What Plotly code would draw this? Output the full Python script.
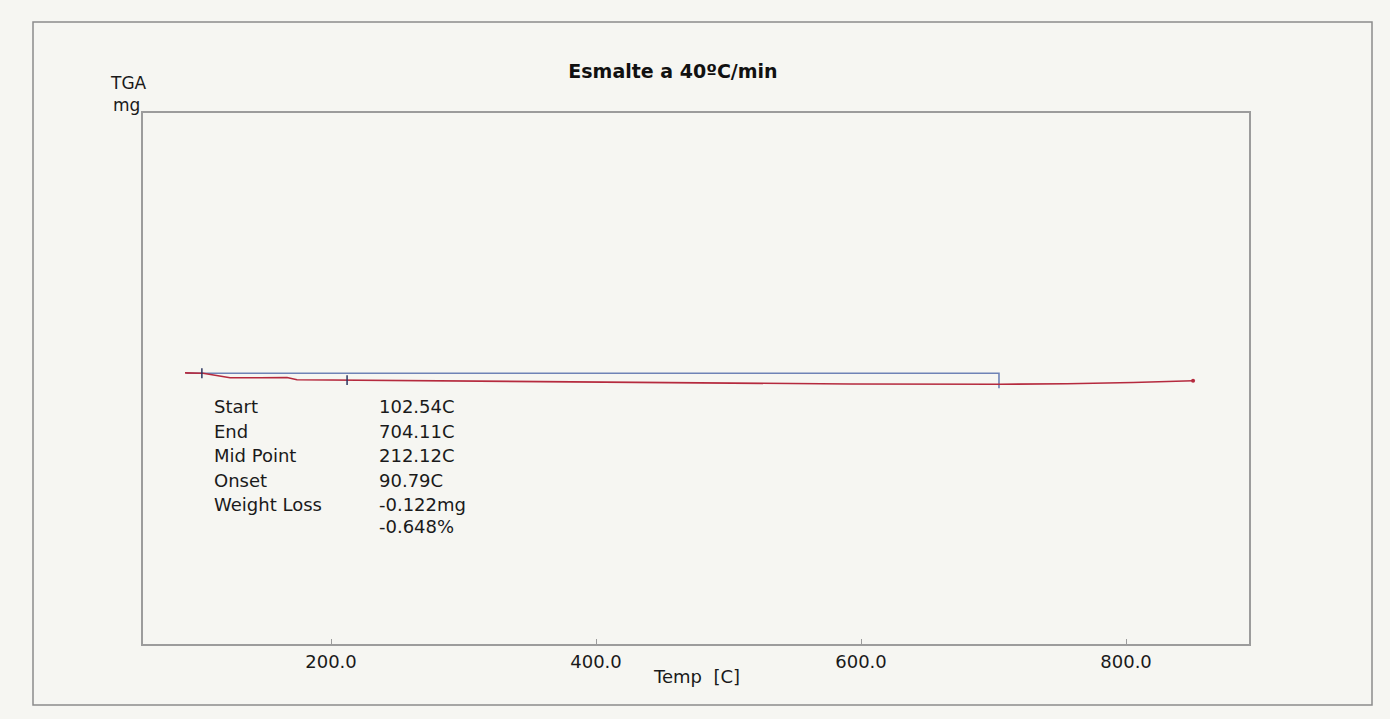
import numpy as np
import plotly.graph_objects as go

# TGA trace: sample temperature (C) and sample mass (mg)
temp_c = [89.8, 103.4, 112.5, 123.8, 146.4, 166.8, 174.3, 212.1, 259.6, 304.9,
          350.2, 431.0, 518.5, 591.7, 704.9, 755.5, 805.3, 850.6]
mass_mg = [18.833, 18.828, 18.806, 18.778, 18.778, 18.781, 18.756, 18.752, 18.744, 18.739,
           18.733, 18.726, 18.714, 18.709, 18.706, 18.711, 18.726, 18.745]

# Step analysis results
onset_c = 90.79
start_c = 102.54
end_c = 704.11
mid_c = 212.12
result_labels = ["Start", "End", "Mid Point", "Onset", "Weight Loss", ""]
result_values = ["102.54C", "704.11C", "212.12C", "90.79C", "-0.122mg", "-0.648%"]

x_ticks = [200.0, 400.0, 600.0, 800.0]
x_range = [58.1, 892.8]
y_range = [15.82, 21.72]

W, H = 1390, 719
ML, MR, MT, MB = 143, 141, 113, 75
PW, PH = W - ML - MR, H - MT - MB


def px(xp):
    return (xp - ML) / PW


def py(yp):
    return (H - MB - yp) / PH


FONT = "DejaVu Sans"
RED = "#b52a3e"
BLUE = "#6f83b6"
NAVY = "#2b3560"
GRID = "#9c9c9c"
BG = "#f6f6f2"

m_start = float(np.interp(start_c, temp_c, mass_mg))
m_end = float(np.interp(end_c, temp_c, mass_mg))
m_mid = float(np.interp(mid_c, temp_c, mass_mg))

fig = go.Figure()

# baseline step drawn from onset to end, dropping at the end temperature
fig.add_trace(go.Scatter(
    x=[onset_c, end_c, end_c], y=[m_start, m_start, m_end - 0.045],
    mode="lines", line=dict(color=BLUE, width=1.6), hoverinfo="skip", showlegend=False))

# measured curve
fig.add_trace(go.Scatter(
    x=temp_c, y=mass_mg, mode="lines",
    line=dict(color=RED, width=1.6), showlegend=False))

# final point marker
fig.add_trace(go.Scatter(
    x=temp_c[-1:], y=mass_mg[-1:], mode="markers",
    marker=dict(color=RED, size=4), showlegend=False))

# start and mid point markers on the curve
for tc, mc in [(start_c, m_start), (mid_c, m_mid)]:
    fig.add_trace(go.Scatter(
        x=[tc, tc], y=[mc - 0.055, mc + 0.055], mode="lines",
        line=dict(color=NAVY, width=1.5), hoverinfo="skip", showlegend=False))

annotations = []
row_y = [406.7, 431.7, 455.7, 480.0, 505.0, 526.7]
for lab, val, yp in zip(result_labels, result_values, row_y):
    if lab:
        annotations.append(dict(text=lab, x=px(212), y=py(yp), xref="paper", yref="paper",
                                xanchor="left", yanchor="middle", showarrow=False,
                                font=dict(family=FONT, size=18, color="#1a1a1a")))
    annotations.append(dict(text=val, x=px(377), y=py(yp), xref="paper", yref="paper",
                            xanchor="left", yanchor="middle", showarrow=False,
                            font=dict(family=FONT, size=18, color="#1a1a1a")))

annotations += [
    dict(text="TGA", x=px(128.5), y=py(83), xref="paper", yref="paper",
         xanchor="center", yanchor="middle", showarrow=False,
         font=dict(family=FONT, size=17, color="#1a1a1a")),
    dict(text="mg", x=px(126), y=py(105), xref="paper", yref="paper",
         xanchor="center", yanchor="middle", showarrow=False,
         font=dict(family=FONT, size=17, color="#1a1a1a")),
    dict(text="Temp\u00a0\u00a0[C]", x=0.5, y=py(676), xref="paper", yref="paper",
         xanchor="center", yanchor="middle", showarrow=False,
         font=dict(family=FONT, size=18, color="#1a1a1a")),
]

fig.update_layout(
    width=W, height=H,
    margin=dict(l=ML, r=MR, t=MT, b=MB),
    paper_bgcolor=BG, plot_bgcolor=BG,
    title=dict(text="<b>Esmalte a 40ºC/min</b>", xref="paper", x=px(673),
               xanchor="center", yref="container", y=1 - 71 / H, yanchor="middle",
               font=dict(family=FONT, size=19, color="#111111")),
    annotations=annotations,
    shapes=[dict(type="rect", xref="paper", yref="paper",
                 x0=px(33), x1=px(1372), y0=py(705), y1=py(22),
                 line=dict(color="#8c8c8c", width=1.5), layer="below")],
    xaxis=dict(range=x_range, tickvals=x_ticks, ticktext=[f"{v:.1f}" for v in x_ticks],
               showgrid=False, zeroline=False, showline=True, mirror=True,
               linecolor=GRID, linewidth=2, ticks="inside", ticklen=5,
               tickcolor=GRID, tickwidth=1,
               tickfont=dict(family=FONT, size=18, color="#1a1a1a")),
    yaxis=dict(range=y_range, showticklabels=False, ticks="", showgrid=False,
               zeroline=False, showline=True, mirror=True,
               linecolor=GRID, linewidth=2),
)

fig.write_html("out.html")
